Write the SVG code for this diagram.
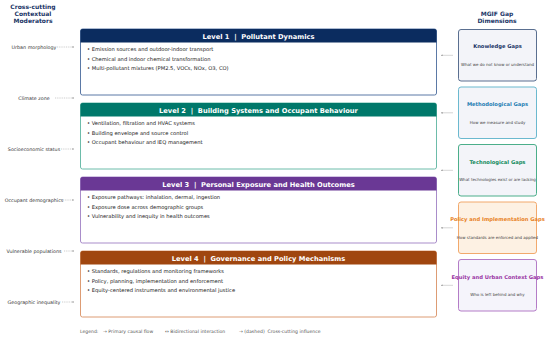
<svg xmlns="http://www.w3.org/2000/svg" width="550" height="338" viewBox="0 0 550 338">
<defs>
<marker id="ah" viewBox="0 0 6 6" refX="5" refY="3" markerWidth="4" markerHeight="4" orient="auto">
<path d="M0,0.5 L6,3 L0,5.5 Z" fill="#999"/>
</marker>
<style>
text{font-family:"DejaVu Sans","Liberation Sans",sans-serif}
.hdr{font-size:6px;font-weight:bold;fill:#1a3566;text-anchor:middle}
.mod{font-size:4.8px;fill:#333;text-anchor:middle}
.lvt{font-size:6.7px;font-weight:bold;fill:#fff;text-anchor:middle}
.bul{font-size:5.2px;fill:#1a1a1a}
.body{fill:#fff;stroke-width:1}
.gt{font-size:5.2px;font-weight:bold;text-anchor:middle}
.gs{font-size:4px;fill:#444;text-anchor:middle}
.gb{stroke-width:1}
.dash{stroke:#999;stroke-width:0.5;stroke-dasharray:1,0.8;fill:none}
.sol{stroke:#aaa;stroke-width:0.5;fill:none}
.leg{font-size:4.6px;fill:#555}
</style>
</defs>
<rect width="550" height="338" fill="#fff"/>

<text class="hdr" x="33" y="9">Cross-cutting</text>
<text class="hdr" x="33" y="16">Contextual</text>
<text class="hdr" x="33" y="23">Moderators</text>
<text class="hdr" x="497" y="16">MGIF Gap</text>
<text class="hdr" x="497" y="23">Dimensions</text>

<g id="moderators">
<text class="mod" x="34" y="48.5">Urban morphology</text>
<text class="mod" x="34" y="99.5">Climate zone</text>
<text class="mod" x="34" y="150.5">Socioeconomic status</text>
<text class="mod" x="34" y="201.5">Occupant demographics</text>
<text class="mod" x="34" y="252.5">Vulnerable populations</text>
<text class="mod" x="34" y="303.5">Geographic inequality</text>
</g>

<g id="level1">
<rect class="body" x="80.5" y="29" width="356" height="66" rx="2" stroke="#5b79a6"/>
<path d="M80.5,42.5 V31 a2,2 0 0 1 2,-2 H434.5 a2,2 0 0 1 2,2 V42.5 Z" fill="#0b2c5f"/>
<text class="lvt" x="258.5" y="38.5">Level 1&#160;&#160;|&#160;&#160;Pollutant Dynamics</text>
<text class="bul" x="87" y="51">• Emission sources and outdoor-indoor transport</text>
<text class="bul" x="87" y="60.5">• Chemical and indoor chemical transformation</text>
<text class="bul" x="87" y="70">• Multi-pollutant mixtures (PM2.5, VOCs, NOx, O3, CO)</text>
</g>

<g id="level2">
<rect class="body" x="80.5" y="103" width="356" height="66" rx="2" stroke="#6dbcaa"/>
<path d="M80.5,116.5 V105 a2,2 0 0 1 2,-2 H434.5 a2,2 0 0 1 2,2 V116.5 Z" fill="#00786a"/>
<text class="lvt" x="258.5" y="112.5">Level 2&#160;&#160;|&#160;&#160;Building Systems and Occupant Behaviour</text>
<text class="bul" x="87" y="125">• Ventilation, filtration and HVAC systems</text>
<text class="bul" x="87" y="134.5">• Building envelope and source control</text>
<text class="bul" x="87" y="144">• Occupant behaviour and IEQ management</text>
</g>

<g id="level3">
<rect class="body" x="80.5" y="177" width="356" height="66" rx="2" stroke="#a98dca"/>
<path d="M80.5,190.5 V179 a2,2 0 0 1 2,-2 H434.5 a2,2 0 0 1 2,2 V190.5 Z" fill="#6a3895"/>
<text class="lvt" x="258.5" y="186.5">Level 3&#160;&#160;|&#160;&#160;Personal Exposure and Health Outcomes</text>
<text class="bul" x="87" y="199">• Exposure pathways: inhalation, dermal, ingestion</text>
<text class="bul" x="87" y="208.5">• Exposure dose across demographic groups</text>
<text class="bul" x="87" y="218">• Vulnerability and inequity in health outcomes</text>
</g>

<g id="level4">
<rect class="body" x="80.5" y="251" width="356" height="66" rx="2" stroke="#dd9c74"/>
<path d="M80.5,264.5 V253 a2,2 0 0 1 2,-2 H434.5 a2,2 0 0 1 2,2 V264.5 Z" fill="#a0460f"/>
<text class="lvt" x="258.5" y="260.5">Level 4&#160;&#160;|&#160;&#160;Governance and Policy Mechanisms</text>
<text class="bul" x="87" y="273">• Standards, regulations and monitoring frameworks</text>
<text class="bul" x="87" y="282.5">• Policy, planning, implementation and enforcement</text>
<text class="bul" x="87" y="292">• Equity-centered instruments and environmental justice</text>
</g>

<g id="gap-knowledge">
<rect class="gb" x="458.5" y="29.5" width="78" height="51.5" rx="2.5" fill="#f3f4f9" stroke="#5a6f90"/>
<text class="gt" x="497.5" y="48" fill="#1a3566">Knowledge Gaps</text>
<text class="gs" x="497.5" y="65.5">What we do not know or understand</text>
</g>
<g id="gap-methodological">
<rect class="gb" x="458.5" y="87" width="78" height="51.5" rx="2.5" fill="#f3f4f9" stroke="#6bb9cf"/>
<text class="gt" x="497.5" y="106" fill="#1f7db3">Methodological Gaps</text>
<text class="gs" x="497.5" y="123.5">How we measure and study</text>
</g>
<g id="gap-technological">
<rect class="gb" x="458.5" y="144.5" width="78" height="51.5" rx="2.5" fill="#f3f4f9" stroke="#4bae8a"/>
<text class="gt" x="497.5" y="163.5" fill="#128a5c">Technological Gaps</text>
<text class="gs" x="497.5" y="181">What technologies exist or are lacking</text>
</g>
<g id="gap-policy">
<rect class="gb" x="458.5" y="202" width="78" height="51.5" rx="2.5" fill="#fdf1e3" stroke="#f2a96c"/>
<text class="gt" x="497.5" y="221" fill="#e8821f">Policy and Implementation Gaps</text>
<text class="gs" x="497.5" y="238.5">How standards are enforced and applied</text>
</g>
<g id="gap-equity">
<rect class="gb" x="458.5" y="259.5" width="78" height="51.5" rx="2.5" fill="#f5f4fb" stroke="#b47cc7"/>
<text class="gt" x="497.5" y="278.5" fill="#9a34a4">Equity and Urban Context Gaps</text>
<text class="gs" x="497.5" y="296">Who is left behind and why</text>
</g>

<g id="connectors">
<line class="dash" x1="57" y1="47" x2="74" y2="47" marker-end="url(#ah)"/>
<line class="dash" x1="55" y1="98" x2="74" y2="98" marker-end="url(#ah)"/>
<line class="dash" x1="61" y1="149" x2="74" y2="149" marker-end="url(#ah)"/>
<line class="dash" x1="63" y1="200" x2="74" y2="200" marker-end="url(#ah)"/>
<line class="dash" x1="64" y1="251" x2="74" y2="251" marker-end="url(#ah)"/>
<line class="dash" x1="62" y1="302" x2="74" y2="302" marker-end="url(#ah)"/>
<line class="sol" x1="453" y1="55.3" x2="441" y2="55.3" marker-end="url(#ah)"/>
<line class="sol" x1="453" y1="112.8" x2="441" y2="112.8" marker-end="url(#ah)"/>
<line class="sol" x1="453" y1="170.3" x2="441" y2="170.3" marker-end="url(#ah)"/>
<line class="sol" x1="453" y1="227.8" x2="441" y2="227.8" marker-end="url(#ah)"/>
<line class="sol" x1="453" y1="285.3" x2="441" y2="285.3" marker-end="url(#ah)"/>
</g>

<g id="legend">
<text class="leg" x="80" y="333">Legend:</text>
<text class="leg" x="103" y="333">→ Primary causal flow</text>
<text class="leg" x="165" y="333">↔ Bidirectional interaction</text>
<text class="leg" x="239" y="333">→ (dashed)&#160;&#160;Cross-cutting influence</text>
</g>
</svg>
